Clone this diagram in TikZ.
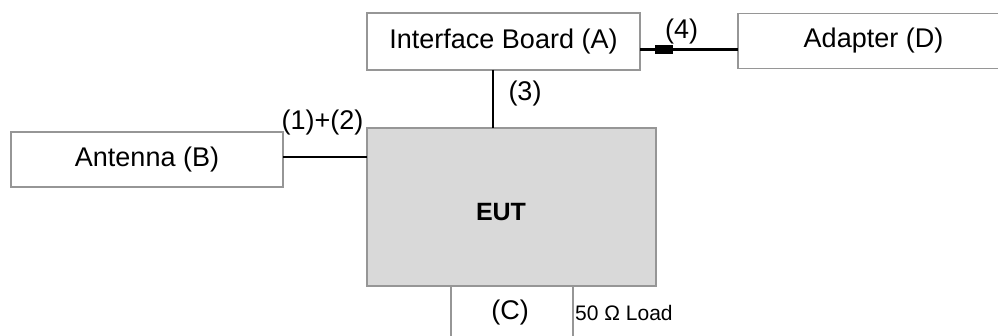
\documentclass[tikz,border=0pt]{standalone}
\usepackage{fontspec}
\setmainfont{Liberation Sans}
\definecolor{boxline}{RGB}{150,150,150}
\definecolor{eutfill}{RGB}{217,217,217}
\begin{document}
\begin{tikzpicture}[x=1pt,y=-1pt,
  box/.style={draw=boxline,line width=1.3pt,fill=white,inner sep=0pt,outer sep=0pt,rectangle},
  txt/.style={inner sep=0pt,font=\fontsize{27}{31}\selectfont},
  small/.style={inner sep=0pt,font=\fontsize{21}{25}\selectfont},
  wire/.style={line width=2.6pt,black}]
\clip (0,0) rectangle (998,336);
\fill[white] (0,0) rectangle (998,336);
% boxes
\node[box,minimum width=273pt,minimum height=57pt] (iface) at (503.5,41.5) {};
\node[box,minimum width=271pt,minimum height=55pt] (adapter) at (873.5,40.8) {};
\node[box,minimum width=272pt,minimum height=55pt] (antenna) at (147,159.5) {};
\node[box,fill=eutfill,minimum width=289pt,minimum height=158pt] (eut) at (511.5,207) {};
\node[box,minimum width=122pt,minimum height=70pt] (cbox) at (512,321) {};
% texts
\node[txt] (ifacetxt) at (iface.center) {Interface Board (A)};
\node[txt] (adaptertxt) at (adapter.center) {Adapter (D)};
\node[txt] (antennatxt) at (antenna.center) {Antenna (B)};
\node[inner sep=0pt,font=\fontsize{25}{29}\selectfont\bfseries] (euttxt) at (501,212.5) {EUT};
\node[txt] (ctxt) at (510,313) {(C)};
\node[small,anchor=west] (loadtxt) at (575,313) {50 Ω Load};
% connectors
\draw[wire] ([yshift=2.5pt]antenna.east) -- ([yshift=2.5pt]antenna.east -| eut.west);
\draw[wire] ([xshift=-10.5pt]iface.south) -- ([xshift=-10.5pt]iface.south |- eut.north);
\draw[wire] ([yshift=-7.8pt]iface.east) -- ([yshift=-7.8pt]iface.east -| adapter.west);
\node[fill=black,inner sep=0pt,minimum width=18pt,minimum height=9pt] (plug) at (664,49.3) {};
% labels
\node[txt] (l12) at (322.5,123) {(1)+(2)};
\node[txt] (l3) at (525,93.5) {(3)};
\node[txt] (l4) at (681.5,32) {(4)};
\end{tikzpicture}
\end{document}
